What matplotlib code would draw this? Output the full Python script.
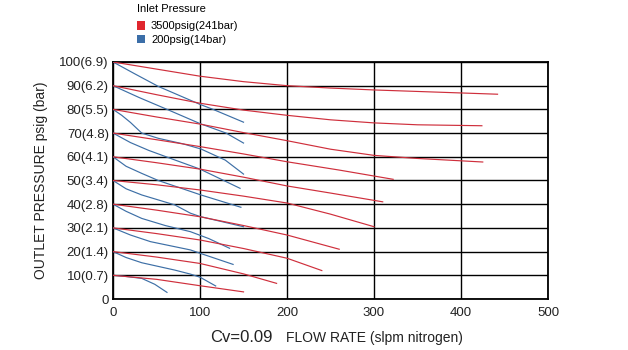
"""Regulator flow curves: outlet pressure vs flow rate, Cv=0.09."""

import matplotlib
matplotlib.use("Agg")
import matplotlib.pyplot as plt
from matplotlib.patches import Patch

plt.rcParams["font.family"] = ["Liberation Sans", "DejaVu Sans"]

RED = "#cf2f3c"
BLUE = "#3d6fa6"

# 3500 psig inlet curves, one per set pressure (100 ... 10 psig)
red_flows = [
    [0, 50, 100, 150, 200, 250, 300, 442],
    [0, 50, 100, 150, 200, 250, 300, 350, 424],
    [0, 50, 100, 150, 200, 250, 300, 350, 425],
    [0, 50, 100, 150, 200, 260, 322],
    [0, 50, 100, 150, 200, 250, 310],
    [0, 50, 100, 150, 200, 250, 300],
    [0, 50, 100, 150, 200, 260],
    [0, 50, 100, 150, 200, 240],
    [0, 50, 100, 150, 188],
    [0, 50, 100, 150],
]
red_press = [
    [100, 97, 94, 91.7, 90, 89, 88.2, 86.4],
    [90, 86.2, 82.6, 79.7, 77.5, 75.6, 74.3, 73.5, 73.1],
    [80, 76.8, 73.8, 70.2, 66.8, 63.2, 60.6, 59.3, 57.8],
    [70, 67.2, 64.3, 61.2, 57.9, 54.4, 50.5],
    [60, 57.5, 54.8, 51.4, 47.7, 44.7, 41],
    [50, 48.2, 46, 43.4, 40.5, 35.8, 30.5],
    [40, 37.5, 34.7, 31, 27, 21],
    [30, 27.6, 24.9, 21.3, 17.2, 12],
    [20, 17.7, 15, 10.6, 6.6],
    [10, 8.3, 5.6, 3],
]

# 200 psig inlet curves
blue_flows = [
    [0, 25, 52, 100, 115, 150],
    [0, 30, 64, 100, 130, 150],
    [0, 10, 20, 33, 52, 80, 101, 129, 150],
    [0, 20, 41, 70, 100, 146],
    [0, 15, 33, 52, 101, 147],
    [0, 15, 33, 71, 89, 100, 150],
    [0, 15, 33, 60, 89, 110, 134],
    [0, 20, 43, 89, 100, 138],
    [0, 15, 33, 71, 89, 100, 118],
    [0, 15, 33, 48, 62],
]
blue_press = [
    [100, 95, 89.7, 82.1, 80, 74.6],
    [90, 85, 79.7, 74, 70, 65.8],
    [80, 77.5, 74.5, 70, 67.8, 65.5, 63.3, 58.6, 52.7],
    [70, 66, 62.7, 58.8, 54.8, 46.7],
    [60, 56, 53, 50, 43.9, 38.7],
    [50, 46.5, 43.9, 39.7, 36.2, 34.8, 30.5],
    [40, 37, 34, 31, 28.4, 25.5, 21.4],
    [30, 27, 24.2, 20.7, 19.3, 14.6],
    [20, 17.5, 15.3, 12.2, 10.5, 9.2, 5.5],
    [10, 9.5, 8.7, 6.2, 2.8],
]

x_ticks = [0, 100, 200, 300, 400, 500]
y_ticks = [0, 10, 20, 30, 40, 50, 60, 70, 80, 90, 100]
y_labels = ["0", "10(0.7)", "20(1.4)", "30(2.1)", "40(2.8)", "50(3.4)",
            "60(4.1)", "70(4.8)", "80(5.5)", "90(6.2)", "100(6.9)"]

fig = plt.figure(figsize=(6.28, 3.5), dpi=100)
ax = fig.add_axes([0.18, 0.1457, 0.6926, 0.6772])

for fx, py in zip(blue_flows, blue_press):
    ax.plot(fx, py, color=BLUE, lw=0.85, zorder=3)
for fx, py in zip(red_flows, red_press):
    ax.plot(fx, py, color=RED, lw=0.85, zorder=4)

ax.set_xlim(0, 500)
ax.set_ylim(0, 100)
ax.set_xticks(x_ticks)
ax.set_yticks(y_ticks)
ax.set_yticklabels(y_labels)
ax.grid(True, color="black", lw=1.0)
ax.set_axisbelow(True)
for s in ax.spines.values():
    s.set_linewidth(1.3)
ax.tick_params(axis="both", length=0, labelsize=9.5, colors="#222222")
ax.tick_params(axis="y", pad=3)
ax.tick_params(axis="x", pad=6)

ax.set_ylabel("OUTLET PRESSURE psig (bar)", fontsize=10, color="#222222", labelpad=8)

fig.text(0.335, 0.022, "Cv=0.09", fontsize=12, color="#222222")
fig.text(0.455, 0.024, "FLOW RATE (slpm nitrogen)", fontsize=10, color="#222222")

handles = [Patch(facecolor="#e0262e", edgecolor="none"),
           Patch(facecolor="#3b6ea8", edgecolor="none")]
leg = fig.legend(handles, ["3500psig(241bar)", "200psig(14bar)"],
                 title="Inlet Pressure", loc="upper left",
                 bbox_to_anchor=(0.205, 1.01), frameon=False,
                 fontsize=8, title_fontsize=8, handlelength=0.8,
                 handleheight=0.8, handletextpad=0.5, labelspacing=0.3,
                 borderpad=0.2)
leg._legend_box.align = "left"
leg._legend_box.sep = 5

fig.savefig("out.png", dpi=100)
